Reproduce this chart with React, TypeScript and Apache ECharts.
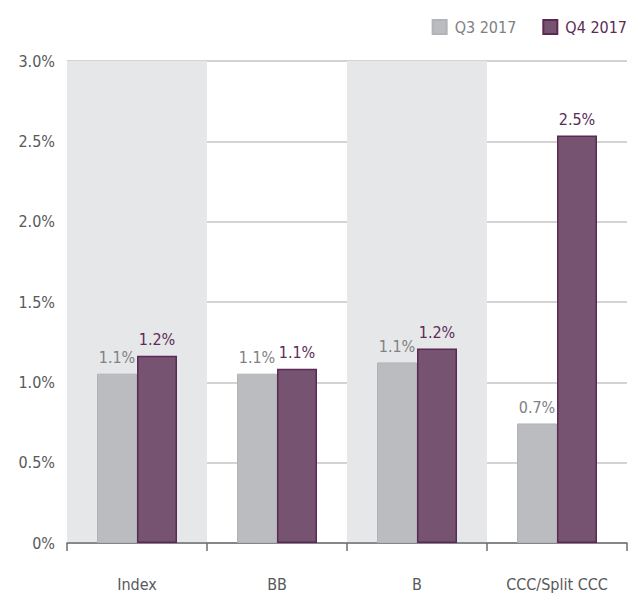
import React, { useEffect, useRef } from "react";
import * as echarts from "echarts";

const categories = ["Index", "BB", "B", "CCC/Split CCC"];
const q3Values = [1.054, 1.054, 1.124, 0.744];
const q4Values = [1.166, 1.085, 1.21, 2.537];
const seriesNames = ["Q3 2017", "Q4 2017"];
const yTicks = [0, 0.5, 1, 1.5, 2, 2.5, 3];

const FONT = "'DejaVu Sans Condensed', 'Liberation Sans Narrow', sans-serif";
const FS = 16;
const GREY_BAR = "#bbbcbf";
const PURPLE_BAR = "#775372";
const GREY_TEXT = "#808184";
const PURPLE_TEXT = "#5b2c56";

export default function App() {
  const ref = useRef<HTMLDivElement>(null);
  useEffect(() => {
    if (!ref.current) return;
    const chart = echarts.init(ref.current, undefined, { renderer: "svg" });
    const fmt = (v: number) => (v === 0 ? "0%" : v.toFixed(1) + "%");
    chart.setOption({
      animation: false,
      backgroundColor: "#ffffff",
      textStyle: { fontFamily: FONT },
      grid: { left: 67, right: 4, top: 61, bottom: 50, containLabel: false },
      legend: {
        right: 4,
        top: 19,
        padding: 0,
        itemWidth: 14,
        itemHeight: 14,
        itemGap: 26,
        icon: "rect",
        textStyle: { fontFamily: FONT, fontSize: FS, padding: [0, 0, 0, 3] },
        data: [
          { name: seriesNames[0], textStyle: { color: GREY_TEXT } },
          { name: seriesNames[1], textStyle: { color: PURPLE_TEXT } },
        ],
      },
      xAxis: {
        type: "category",
        data: categories,
        axisLine: { show: true, lineStyle: { color: "#6d6e71", width: 1.5 } },
        axisTick: { show: true, interval: 0, length: 8, lineStyle: { color: "#6d6e71", width: 1.5 } },
        axisLabel: { interval: 0, color: "#58595b", fontSize: FS, fontFamily: FONT, margin: 33 },
        splitArea: {
          show: true,
          interval: 0,
          areaStyle: { color: ["#e6e7e8", "rgba(255,255,255,0)"] },
        },
        splitLine: { show: false },
      },
      yAxis: {
        type: "value",
        min: yTicks[0],
        max: yTicks[yTicks.length - 1],
        interval: 0.5,
        axisLine: { show: false },
        axisTick: { show: false },
        axisLabel: { color: "#58595b", fontSize: FS, fontFamily: FONT, margin: 12, formatter: fmt },
        splitLine: { show: true, lineStyle: { color: "#c4c4c6", width: 1.5 } },
      },
      series: [
        {
          name: seriesNames[0],
          type: "bar",
          data: q3Values,
          barWidth: 40,
          barGap: "0%",
          itemStyle: { color: GREY_BAR, borderColor: "#b2b3b6", borderWidth: 1 },
          label: {
            show: true,
            position: "top",
            distance: 8,
            color: GREY_TEXT,
            fontSize: FS,
            fontFamily: FONT,
            formatter: (p: any) => fmt(p.value),
          },
        },
        {
          name: seriesNames[1],
          type: "bar",
          data: q4Values,
          barWidth: 40,
          barGap: "0%",
          itemStyle: { color: PURPLE_BAR, borderColor: "#5a2a55", borderWidth: 1.5 },
          label: {
            show: true,
            position: "top",
            distance: 8,
            color: PURPLE_TEXT,
            fontSize: FS,
            fontFamily: FONT,
            formatter: (p: any) => fmt(p.value),
          },
        },
      ],
    });
    return () => chart.dispose();
  }, []);
  return (
    <div
      ref={ref}
      style={{ position: "fixed", left: 0, top: 0, width: 631, height: 593, background: "#fff" }}
    />
  );
}
